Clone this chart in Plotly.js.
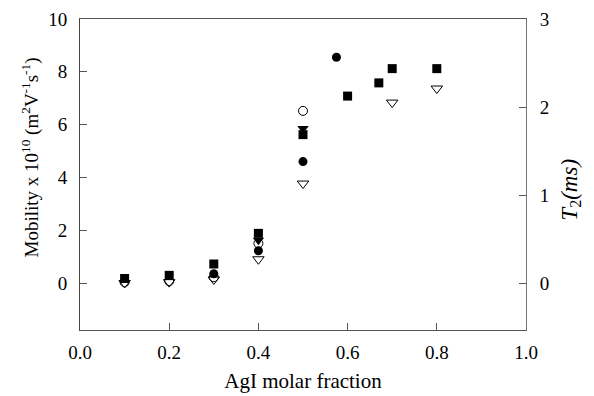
<!DOCTYPE html>
<html><head><meta charset="utf-8">
<script src="https://cdn.plot.ly/plotly-3.0.1.min.js"></script>
<style>html,body{margin:0;padding:0;background:#fff}#chart{width:594px;height:396px}</style>
</head><body><div id="chart"></div>
<script>
// AgI molar fraction vs mobility (x 1e10 m^2 V^-1 s^-1) and T2 (ms)
const xSquares = [0.1, 0.2, 0.3, 0.4, 0.5, 0.6, 0.67, 0.7, 0.8];
const ySquares = [0.17, 0.29, 0.72, 1.88, 5.62, 7.08, 7.58, 8.12, 8.12];

const xFilledCircles = [0.3, 0.4, 0.5, 0.575];
const yFilledCircles = [0.35, 1.22, 4.6, 8.55];

const xOpenCircles = [0.1, 0.2, 0.3, 0.4, 0.5];
const yOpenCircles = [0.03, 0.07, 0.22, 1.5, 6.52];

const xFilledTriangles = [0.4, 0.5];
const yFilledTriangles = [1.62, 5.85];

// T2 (ms), right axis
const xT2 = [0.1, 0.2, 0.3, 0.4, 0.5, 0.7, 0.8];
const yT2 = [0.0, 0.01, 0.04, 0.27, 1.13, 2.05, 2.21];

const xTicks = [0, 0.2, 0.4, 0.6, 0.8, 1.0];
const xTickText = ['0.0', '0.2', '0.4', '0.6', '0.8', '1.0'];
const yTicks = [0, 2, 4, 6, 8, 10];
const y2Ticks = [0, 1, 2, 3];

const yTitle = 'Mobility x 10<sup>10</sup> (m<sup>2</sup>V<sup>-1</sup>s<sup>-1</sup>)';
const y2Title = '<i>T</i><sub>2</sub><i>(ms)</i>';

const FONT = 'Times New Roman, Liberation Serif, serif';

const traces = [
  {x: xT2, y: yT2, yaxis: 'y2', mode: 'markers', type: 'scatter',
   marker: {symbol: 'triangle-down-open', size: 10, color: '#000', line: {width: 1}}},
  {x: xOpenCircles, y: yOpenCircles, mode: 'markers', type: 'scatter',
   marker: {symbol: 'circle-open', size: 9, color: '#000', line: {width: 1}}},
  {x: xFilledCircles, y: yFilledCircles, mode: 'markers', type: 'scatter',
   marker: {symbol: 'circle', size: 9, color: '#000'}},
  {x: xFilledTriangles, y: yFilledTriangles, mode: 'markers', type: 'scatter',
   marker: {symbol: 'triangle-down', size: 10, color: '#000'}},
  {x: xSquares, y: ySquares, mode: 'markers', type: 'scatter',
   marker: {symbol: 'square', size: 9, color: '#000'}}
];

const layout = {
  width: 594, height: 396,
  margin: {l: 80, r: 68, t: 19, b: 66},
  paper_bgcolor: '#fff', plot_bgcolor: '#fff',
  showlegend: false,
  font: {family: FONT, size: 19, color: '#000'},
  xaxis: {
    range: [0, 1], tickvals: xTicks, ticktext: xTickText,
    ticks: 'inside', ticklen: 7, tickcolor: '#555',
    showline: true, linecolor: '#555', linewidth: 1, mirror: true,
    showgrid: false, zeroline: false, ticklabelstandoff: 5,
    tickfont: {family: FONT, size: 19},
    title: {text: 'AgI molar fraction', font: {family: FONT, size: 21}, standoff: 11}
  },
  yaxis: {
    range: [-1.78, 10], tickvals: yTicks,
    ticks: 'inside', ticklen: 7, tickcolor: '#555',
    showline: true, linecolor: '#444', linewidth: 1,
    showgrid: false, zeroline: false, ticklabelstandoff: 8,
    tickfont: {family: FONT, size: 19}
  },
  yaxis2: {
    overlaying: 'y', side: 'right',
    range: [-0.534, 3], tickvals: y2Ticks,
    ticks: 'inside', ticklen: 7, tickcolor: '#555',
    showline: true, linecolor: '#777', linewidth: 1,
    showgrid: false, zeroline: false, ticklabelstandoff: 9,
    tickfont: {family: FONT, size: 19}
  },
  annotations: [
    {text: yTitle, xref: 'paper', yref: 'paper', x: -0.112, y: 0.555,
     xanchor: 'center', yanchor: 'middle', textangle: -90, showarrow: false,
     font: {family: FONT, size: 19}},
    {text: y2Title, xref: 'paper', yref: 'paper', x: 1.1, y: 0.45,
     xanchor: 'center', yanchor: 'middle', textangle: -90, showarrow: false,
     font: {family: FONT, size: 23}}
  ]
};

Plotly.newPlot('chart', traces, layout, {displayModeBar: false, staticPlot: true});
</script></body></html>
